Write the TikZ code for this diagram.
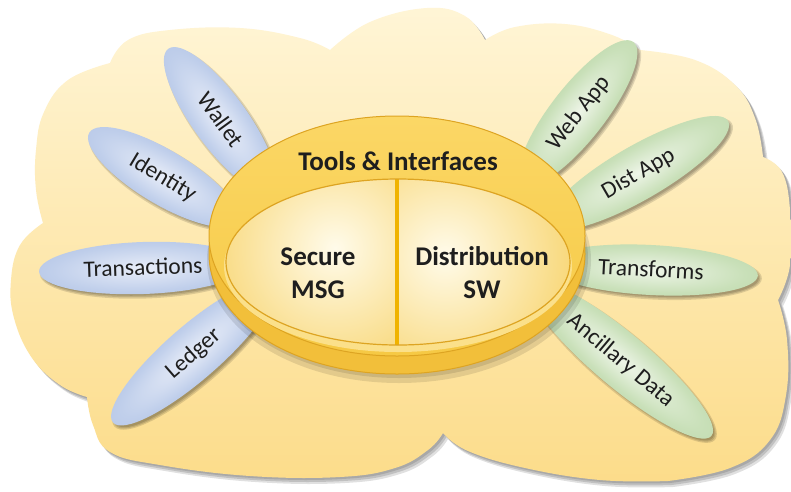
\documentclass[tikz,border=0pt]{standalone}
\usepackage{fontspec}
\setmainfont{Carlito}
\usetikzlibrary{shapes.geometric}
\definecolor{cloudtop}{HTML}{FFF5D6}
\definecolor{cloudbot}{HTML}{FCDC8A}
\definecolor{blueout}{HTML}{9CB1DC}
\definecolor{bluemid}{HTML}{C0CFEB}
\definecolor{bluein}{HTML}{E8EDF8}
\definecolor{greenout}{HTML}{A9CB93}
\definecolor{greenmid}{HTML}{C9E0B9}
\definecolor{greenin}{HTML}{EEF5E8}
\definecolor{ringtop}{HTML}{FBD766}
\definecolor{ringbot}{HTML}{F6C944}
\definecolor{ringedge}{HTML}{DDA422}
\definecolor{rimc}{HTML}{F2BF3A}
\definecolor{bandc}{HTML}{FBE08A}
\definecolor{innerhi}{HTML}{FFFBEA}
\definecolor{innerlo}{HTML}{F7D267}
\definecolor{divc}{HTML}{F0B300}
\definecolor{txt}{HTML}{1E1E1E}
\pgfdeclareradialshading{bluepet}{\pgfpoint{0bp}{0bp}}{color(0bp)=(bluein); color(22bp)=(bluemid); color(50bp)=(blueout)}
\pgfdeclareradialshading{greenpet}{\pgfpoint{0bp}{0bp}}{color(0bp)=(greenin); color(22bp)=(greenmid); color(50bp)=(greenout)}
\tikzset{
  lbl/.style={font=\fontsize{23.5}{24}\selectfont, text=txt, inner sep=0pt, text height=14pt, text depth=0pt},
  big/.style={font=\bfseries\fontsize{27}{33}\selectfont, text=txt, align=center, inner sep=0pt},
  shadowfill/.style={fill=black, opacity=0.13},
}
% cx, cy, rotation, rx, ry, shading
\newcommand\petalfill[6]{%
  \begin{scope}[transform canvas={shift={(#1+2.5,#2+3)},rotate=#3}]
    \fill[shadowfill] (0,0) ellipse ({#4+1.5} and {#5+1.5});
    \fill[shadowfill] (0,0) ellipse (#4 and #5);
    \fill[shadowfill] (0,0) ellipse ({#4-1.5} and {#5-1.5});
  \end{scope}
  \begin{scope}[transform canvas={shift={(#1,#2)},rotate=#3}]
    \shade[shading=#6] (0,0) ellipse (#4 and #5);
  \end{scope}
}
\def\cloudpath{plot[smooth, tension=.7] coordinates {(110,63) (128,40) (170,30) (240,28) (300,38) (330,50)}
 -- plot[smooth, tension=.7] coordinates {(330,50) (370,22) (427,8) (465,16) (485,40)}
 -- plot[smooth, tension=.7] coordinates {(485,40) (515,27) (565,24) (612,35) (640,50)}
 -- plot[smooth, tension=.7] coordinates {(640,50) (695,60) (735,85) (755,118) (763,157)}
 -- plot[smooth, tension=.7] coordinates {(763,157) (782,172) (790,210) (790,265) (778,300)}
 -- plot[smooth, tension=.7] coordinates {(778,300) (787,340) (786,395) (770,440) (730,468) (668,481)}
 -- plot[smooth, tension=.7] coordinates {(668,481) (600,480) (525,468) (468,451) (443,433)}
 -- plot[smooth, tension=.7] coordinates {(443,433) (428,450) (395,468) (340,477) (250,476) (160,465) (110,452) (93,425) (87,397)}
 -- plot[smooth, tension=.7] coordinates {(87,397) (60,385) (32,358) (14,318) (11,280) (20,245) (43,223)}
 -- plot[smooth, tension=.7] coordinates {(43,223) (36,190) (36,150) (44,112) (68,80) (110,63)}
 -- cycle}
\begin{document}
\begin{tikzpicture}[x=1pt,y=-1pt]
\useasboundingbox (0,0) rectangle (791,491);
\fill[white] (0,0) rectangle (791,491);

% cloud shadow and cloud
\begin{scope}[shift={(5,6)}]
  \fill[black, opacity=0.12] \cloudpath;
\end{scope}
\begin{scope}[shift={(3.5,4)}]
  \fill[black, opacity=0.14] \cloudpath;
\end{scope}
\begin{scope}[shift={(2,2)}]
  \fill[black, opacity=0.12] \cloudpath;
\end{scope}
\shade[top color=cloudtop, bottom color=cloudbot] \cloudpath;

% petals (blue, left)
\petalfill{220}{120}{-54}{88}{27}{bluepet}
\petalfill{163}{177}{-31}{86}{27}{bluepet}
\petalfill{143}{268}{2}{104}{26}{bluepet}
\petalfill{193}{353}{41}{106}{27}{bluepet}
% petals (green, right)
\petalfill{578}{113}{52}{90}{27}{greenpet}
\petalfill{638}{173}{30}{104}{27}{greenpet}
\petalfill{651}{270}{-3}{107}{25}{greenpet}
\petalfill{621}{360}{-40}{118}{27}{greenpet}

\node[lbl, rotate=-54] (wallet) at (220,120) {Wallet};
\node[lbl, rotate=-31] (identity) at (163,177) {Identity};
\node[lbl, rotate=2] (transactions) at (143,268) {Transactions};
\node[lbl, rotate=41] (ledger) at (193,353) {Ledger};
\node[lbl, rotate=52] (webapp) at (578,113) {Web App};
\node[lbl, rotate=30] (distapp) at (638,173) {Dist App};
\node[lbl, rotate=-3] (transforms) at (651,270) {Transforms};
\node[lbl, rotate=-40] (ancillary) at (621,360) {Ancillary Data};

% central disc
\fill[black, opacity=.10] (399,260) ellipse (192 and 123);
\fill[black, opacity=.10] (399,258) ellipse (189 and 120);
\fill[rimc] (397,254) ellipse (188 and 120);
\draw[ringedge, line width=1pt] (397,254) ellipse (188 and 120);
\shade[top color=ringtop, bottom color=ringbot] (397,236) ellipse (188 and 120);
\draw[ringedge, line width=1pt] (397,236) ellipse (188 and 120);
\fill[bandc] (398,266) ellipse (174 and 86);
\begin{scope}
  \clip (398,262) ellipse (172 and 83);
  \fill[innerlo] (220,170) rectangle (580,350);
  \begin{scope}
    \clip (220,170) rectangle (397,350);
    \shade[inner color=innerhi, outer color=innerlo] (335,248) circle (150);
  \end{scope}
  \begin{scope}
    \clip (397,170) rectangle (580,350);
    \shade[inner color=innerhi, outer color=innerlo] (445,255) circle (150);
  \end{scope}
  \draw[divc, line width=4.5pt] (397,170) -- (397,350);
\end{scope}
\draw[ringedge, line width=1.2pt] (398,262) ellipse (172 and 83);

\node[big] (tools) at (398,161) {Tools \& Interfaces};
\node[big] (secure) at (318,273) {Secure\\MSG};
\node[big] (distsw) at (482,273) {Distribution\\SW};
\end{tikzpicture}
\end{document}
